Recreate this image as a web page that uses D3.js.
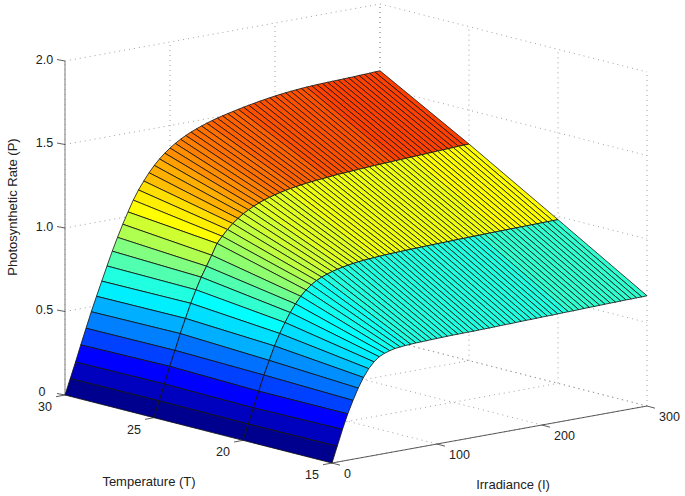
<!DOCTYPE html>
<html>
<head>
<meta charset="utf-8">
<script src="https://d3js.org/d3.v7.min.js"></script>
<style>
    body { margin: 0; background: #fff; }
    text { font-family: "Liberation Sans", sans-serif; font-size: 12.5px; fill: #222; }
    text.axis-title { font-size: 13px; }
</style>
</head>
<body>
<div id="chart"></div>
<script>
var irradiance = [0,5,10,15,20,25,30,35,40,45,50,55,60,65,70,75,80,85,90,95,100,105,110,115,120,125,130,135,140,145,150,
    155,160,165,170,175,180,185,190,195,200,205,210,215,220,225,230,235,240,245,250,255,260,265,270,275,280,285,290,295,300];

var temperature = [15, 20, 25, 30];

// photosynthetic rate, one list per temperature
var rateT15 = [0,.095,.19,.277,.352,.42,.478,.525,.56,.585,.6,.61,.617,
    .621,.624,.626,.628,.629,.63,.631,.632,.633,.634,.635,.635,.636,.636,.636,.637,
    .638,.638,.639,.64,.641,.641,.642,.643,.644,.644,.645,.646,.647,.647,.648,.649,
    .65,.65,.651,.652,.653,.653,.654,.655,.656,.656,.657,.658,.658,.659,.659,.66];
var rateT20 = [0,.092,.183,.277,.368,.45,.531,.6,.66,.714,.76,.8,.832,
    .857,.877,.892,.904,.914,.922,.929,.935,.94,.944,.947,.95,.952,.954,.956,.958,
    .959,.96,.961,.962,.963,.964,.965,.966,.967,.967,.968,.969,.97,.97,.971,.972,
    .972,.973,.974,.974,.975,.975,.976,.976,.977,.977,.978,.978,.979,.979,.98,.98];
var rateT25 = [0,.095,.19,.29,.38,.475,.56,.645,.72,.79,.85,.91,.975,
    1.012,1.047,1.077,1.102,1.124,1.142,1.158,1.172,1.184,1.194,1.203,1.211,1.218,1.224,1.229,1.234,
    1.238,1.242,1.245,1.248,1.251,1.254,1.257,1.259,1.261,1.263,1.265,1.267,1.269,1.271,1.272,1.274,
    1.275,1.277,1.278,1.28,1.281,1.283,1.284,1.286,1.287,1.289,1.29,1.292,1.293,1.295,1.296,1.297];
var rateT30 = [0,.093,.186,.283,.377,.47,.557,.642,.727,.81,.887,.96,1.028,
    1.093,1.148,1.196,1.24,1.278,1.311,1.34,1.365,1.387,1.406,1.423,1.438,1.451,1.463,1.474,1.484,
    1.493,1.501,1.509,1.516,1.523,1.53,1.536,1.542,1.548,1.553,1.558,1.563,1.567,1.571,1.574,1.577,
    1.58,1.582,1.584,1.586,1.587,1.588,1.589,1.59,1.591,1.592,1.593,1.595,1.596,1.597,1.599,1.6];
var rates = [rateT15, rateT20, rateT25, rateT30];

var irradianceTicks = [0, 100, 200, 300];
var temperatureTicks = [15, 20, 25, 30];
var rateTicks = [0, 0.5, 1, 1.5, 2];
var rateTickLabels = ["0", "0.5", "1.0", "1.5", "2.0"];

var width = 685, height = 496;

var svg = d3.select("#chart").append("svg")
    .attr("width", width)
    .attr("height", height)
    .style("display", "block");

// parallel projection: each data axis adds its own offset to the screen position
var origin = {x: 332, y: 463};
var iX = d3.scaleLinear().domain([0, 300]).range([0, 315]);
var iY = d3.scaleLinear().domain([0, 300]).range([0, -57]);
var tX = d3.scaleLinear().domain([15, 30]).range([0, -267]);
var tY = d3.scaleLinear().domain([15, 30]).range([0, -68]);
var pY = d3.scaleLinear().domain([0, 2]).range([0, -334]);

function project(i, t, p) {
    return [origin.x + iX(i) + tX(t), origin.y + iY(i) + tY(t) + pY(p)];
}

// matlab jet(64)
function jet(k) {
    var n = 16;
    function u(j) {
        if (j < 1 || j > 47) return 0;
        if (j <= n) return j / n;
        if (j <= 2 * n - 1) return 1;
        return (3 * n - j) / n;
    }
    var idx = k + 1;
    return d3.rgb(255 * u(idx - 24), 255 * u(idx - 8), 255 * u(idx + 8)).formatHex();
}

var maxRate = d3.max(rates, function(r) { return d3.max(r); });
var colorIndex = d3.scaleLinear().domain([0, maxRate]).range([0, 64]);

function rateColor(p) {
    return jet(Math.min(63, Math.floor(colorIndex(p))));
}

var line = d3.line();

// grid on the two back walls and the floor
var gridLines = [];
irradianceTicks.forEach(function(i) {
    gridLines.push([project(i, 15, 0), project(i, 30, 0)]);
    gridLines.push([project(i, 30, 0), project(i, 30, 2)]);
});
temperatureTicks.forEach(function(t) {
    gridLines.push([project(0, t, 0), project(300, t, 0)]);
    gridLines.push([project(300, t, 0), project(300, t, 2)]);
});
rateTicks.forEach(function(p) {
    gridLines.push([project(0, 30, p), project(300, 30, p)]);
    gridLines.push([project(300, 30, p), project(300, 15, p)]);
});

svg.append("g").selectAll("path")
    .data(gridLines)
    .enter().append("path")
    .attr("d", line)
    .attr("fill", "none")
    .attr("stroke", "#888")
    .attr("stroke-width", 0.8)
    .attr("stroke-dasharray", "1 4");

// axis lines
svg.append("path")
    .attr("d", line([project(0, 30, 0), project(0, 30, 2)]))
    .attr("stroke", "#999")
    .attr("stroke-width", 1.3);
svg.append("path")
    .attr("d", line([project(0, 15, 0), project(300, 15, 0)]))
    .attr("stroke", "#333")
    .attr("stroke-width", 0.8);

// surface cells, back to front so nearer ones paint over
var cells = [];
for (var tIdx = temperature.length - 2; tIdx >= 0; tIdx--) {
    for (var iIdx = irradiance.length - 2; iIdx >= 0; iIdx--) {
        cells.push({
            color: rateColor(rates[tIdx][iIdx]),
            corners: [
                project(irradiance[iIdx], temperature[tIdx], rates[tIdx][iIdx]),
                project(irradiance[iIdx + 1], temperature[tIdx], rates[tIdx][iIdx + 1]),
                project(irradiance[iIdx + 1], temperature[tIdx + 1], rates[tIdx + 1][iIdx + 1]),
                project(irradiance[iIdx], temperature[tIdx + 1], rates[tIdx + 1][iIdx])
            ]
        });
    }
}

svg.append("g").selectAll("path")
    .data(cells)
    .enter().append("path")
    .attr("d", function(d) { return line(d.corners) + "Z"; })
    .attr("fill", function(d) { return d.color; })
    .attr("stroke", "#111")
    .attr("stroke-width", 0.8)
    .attr("stroke-linejoin", "round");

// ticks and labels
var ticks = svg.append("g").attr("stroke", "#333").attr("stroke-width", 0.8);

rateTicks.forEach(function(p, idx) {
    var a = project(0, 30, p);
    ticks.append("path").attr("d", line([a, [a[0] - 8, a[1] - 1.5]]));
    svg.append("text")
        .attr("x", p === 0 ? a[0] - 23 : a[0] - 20.5)
        .attr("y", p === 0 ? a[1] - 3 : a[1] - 1.5)
        .attr("dy", "0.35em")
        .attr("text-anchor", "middle")
        .text(rateTickLabels[idx]);
});

temperatureTicks.forEach(function(t) {
    var a = project(0, t, 0);
    ticks.append("path").attr("d", line([a, [a[0] - 9, a[1] + 1.7]]));
    svg.append("text")
        .attr("x", a[0] - 20)
        .attr("y", a[1] + 11.5)
        .attr("dy", "0.35em")
        .attr("text-anchor", "middle")
        .text(t);
});

irradianceTicks.forEach(function(i) {
    var a = project(i, 15, 0);
    ticks.append("path").attr("d", line([a, [a[0] + 8, a[1] + 2.2]]));
    svg.append("text")
        .attr("x", a[0] + 12)
        .attr("y", a[1] + 11)
        .attr("dy", "0.35em")
        .attr("text-anchor", "start")
        .text(i);
});

svg.append("text")
    .attr("class", "axis-title")
    .attr("transform", "translate(12,207) rotate(-90)")
    .attr("dy", "0.35em")
    .attr("text-anchor", "middle")
    .text("Photosynthetic Rate (P)");
svg.append("text")
    .attr("class", "axis-title")
    .attr("x", 149).attr("y", 481)
    .attr("dy", "0.35em")
    .attr("text-anchor", "middle")
    .text("Temperature (T)");
svg.append("text")
    .attr("class", "axis-title")
    .attr("x", 513).attr("y", 484)
    .attr("dy", "0.35em")
    .attr("text-anchor", "middle")
    .text("Irradiance (I)");
</script>
</body>
</html>
